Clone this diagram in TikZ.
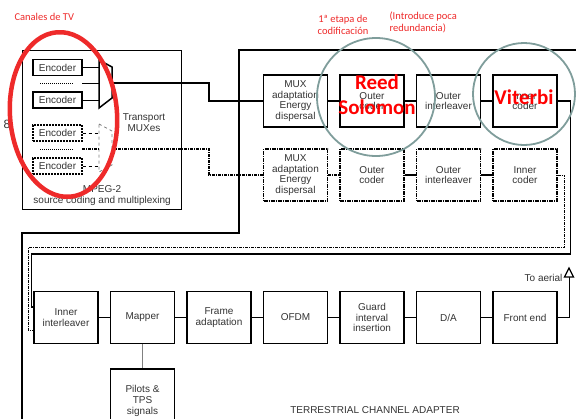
\documentclass[tikz,border=0pt]{standalone}
\usepackage{fontspec}
\setmainfont{Liberation Sans}
\newfontfamily\notefont{Carlito}
\usepackage{tikz}
\usetikzlibrary{positioning}
\definecolor{notered}{HTML}{EE2A2A}
\definecolor{ringgray}{HTML}{7F9D9B}
\definecolor{boxtext}{HTML}{333333}
\tikzstyle{block} = [
    rectangle, draw=black, line width=1.5pt,
    minimum width=64pt, minimum height=52pt, inner sep=1pt,
    align=center, text=boxtext, font=\fontsize{10}{10.7}\selectfont
]
\tikzstyle{dotblock} = [block, line width=1.3pt, dash pattern=on 4pt off 1pt on 1pt off 1pt]
\tikzstyle{encoder} = [block, line width=1.2pt, minimum width=49pt, minimum height=16pt]
\tikzstyle{dotencoder} = [encoder, dash pattern=on 2pt off 1pt]
\tikzstyle{lbl} = [text=boxtext, align=center, font=\fontsize{10}{10.7}\selectfont]
\tikzstyle{link} = [draw=black, line width=1.5pt]
\tikzstyle{dotlink} = [draw=black, line width=1.1pt, dash pattern=on 3pt off 1pt on 1pt off 1pt]
\tikzstyle{tie} = [draw=gray, line width=1pt]
\tikzstyle{note} = [text=notered, align=left, font=\notefont\fontsize{10.5}{12}\selectfont]
\tikzstyle{bignote} = [text=red, align=center, font=\notefont\bfseries\fontsize{21}{25}\selectfont]
\tikzstyle{ring} = [draw=ringgray, line width=1.8pt]

\begin{document}
\begin{tikzpicture}[x=1pt, y=-1pt, node distance=76.5pt]
    \useasboundingbox (0,0) rectangle (576,418);
    \clip (0,0) rectangle (576,418);

    % source coding side
    \node [draw, line width=1.2pt, minimum width=159pt, minimum height=159pt,
           inner sep=0pt, anchor=north west] (mpeg) at (22,50) {};
    \node [lbl, above=1pt] (mpeglbl) at (mpeg.south) {MPEG-2\\source coding and multiplexing};
    \node [encoder] (enc1) at (57.5,67.5) {Encoder};
    \node [encoder] (enc2) at (57.5,100) {Encoder};
    \node [dotencoder] (denc1) at (57.5,133) {Encoder};
    \node [dotencoder] (denc2) at (57.5,166) {Encoder};
    \node [lbl] (tmux) at (144,122.5) {Transport\\MUXes};
    \node [lbl, font=\fontsize{12}{12}\selectfont] (eight) at (7,124) {8};

    \coordinate (muxin) at (99,83);
    \coordinate (muxout) at (112,83);
    \coordinate (dmuxin) at (99,149);
    \coordinate (dmuxout) at (112,149);
    \draw [link] (99,60) -- (112,67) -- (112,98) -- (99,108) -- cycle;
    \draw [gray, line width=0.8pt, dashed] (99,124) -- (112,131) -- (112,165) -- (99,172) -- cycle;

    \path [draw, line width=0.7pt] (enc1.east) -- (enc1.east -| muxin);
    \path [draw, line width=0.7pt] (enc2.east) -- (enc2.east -| muxin);
    \path [draw, line width=0.7pt] (82,83) -- (muxin);
    \path [draw, densely dotted, line width=1pt] (40,83) -- (73,83);
    \path [draw, line width=0.7pt, dashed] (denc1.east) -- (denc1.east -| dmuxin);
    \path [draw, line width=0.7pt, dashed] (denc2.east) -- (denc2.east -| dmuxin);
    \path [dotlink] (82,149) -- (dmuxin);
    \path [draw, densely dotted, line width=1pt] (40,149) -- (73,149);

    % channel adapter
    \draw [line width=1.2pt] (600,50) -- (239,50) -- (239,233) -- (22,233) -- (22,430);

    \node [block] (mux) at (295.5,101) {MUX\\adaptation\\Energy\\dispersal};
    \node [block, right of=mux] (ocod) {Outer\\coder};
    \node [block, right of=ocod] (oil) {Outer\\interleaver};
    \node [block, right of=oil] (icod) {Inner\\coder};

    \node [dotblock] (dmux) at (295.5,175) {MUX\\adaptation\\Energy\\dispersal};
    \node [dotblock, right of=dmux] (docod) {Outer\\coder};
    \node [dotblock, right of=docod] (doil) {Outer\\interleaver};
    \node [dotblock, right of=doil] (dicod) {Inner\\coder};

    \node [block] (iil) at (66,317.5) {Inner\\interleaver};
    \node [block, right of=iil] (map) {Mapper};
    \node [block, right of=map] (frame) {Frame\\adaptation};
    \node [block, right of=frame] (ofdm) {OFDM};
    \node [block, right of=ofdm] (guard) {Guard\\interval\\insertion};
    \node [block, right of=guard] (da) {D/A};
    \node [block, right of=da] (fe) {Front end};
    \node [block, minimum height=64pt] (pil) at (142.5,401) {Pilots \&\\TPS\\signals};
    \node [lbl] (tca) at (375,410) {TERRESTRIAL CHANNEL ADAPTER};

    \path [link] (muxout) -- ++(97,0) |- (mux.west);
    \path [dotlink] (dmuxout) -- ++(97,0) |- (dmux.west);
    \path [link] (mux) -- (ocod);
    \path [link] (ocod) -- (oil);
    \path [link] (oil) -- (icod);
    \path [dotlink] (dmux) -- (docod);
    \path [link] (docod) -- (doil);
    \path [link] (doil) -- (dicod);
    \path [link, line width=1.2pt] (icod.east) -- ++(12.5,0) -- ++(0,153)
        -| ([xshift=-2pt,yshift=10.5pt]iil.west) -- ([yshift=10.5pt]iil.west);
    \path [dotlink, line width=0.8pt] (dicod.east) -- ++(7,0) -- ++(0,72)
        -| ([xshift=-5pt,yshift=-12.5pt]iil.west) -- ([yshift=-12.5pt]iil.west);

    \path [link] (iil) -- (map);
    \path [link] (map) -- (frame);
    \path [link] (frame) -- (ofdm);
    \path [link] (ofdm) -- (guard);
    \path [link] (guard) -- (da);
    \path [link] (da) -- (fe);
    \path [tie] (map) -- (pil);

    \coordinate (aer) at (569,277);
    \path [link, line width=1pt] (fe.east) -| (aer);
    \draw [line width=1.3pt, fill=white] (aer) -- ++(-4.5,0) -- ++(4.5,-9) -- ++(4.5,9) -- cycle;
    \node [lbl, anchor=east] (aerlbl) at (566,278) {To aerial};

    % annotations
    \draw [ring] (376,97) circle [radius=59pt];
    \draw [ring] (524,94) circle [radius=51pt];
    \draw [draw=notered, line width=4.5pt, rotate around={4.5:(63.5,114.5)}]
        (63.5,114.5) ellipse [x radius=53.5pt, y radius=82.5pt];
    \node [note, anchor=west] (canales) at (11,17) {Canales de TV};
    \node [note, align=center] (etapa) at (343,24.5) {1ª etapa de\\codificación};
    \node [note, anchor=north west] (intro) at (386,8) {(Introduce poca\\redundancia)};
    \node [bignote] (rs) at (377,95) {Reed\\Solomon};
    \node [bignote] (vit) at (524,97) {Viterbi};
\end{tikzpicture}
\end{document}
